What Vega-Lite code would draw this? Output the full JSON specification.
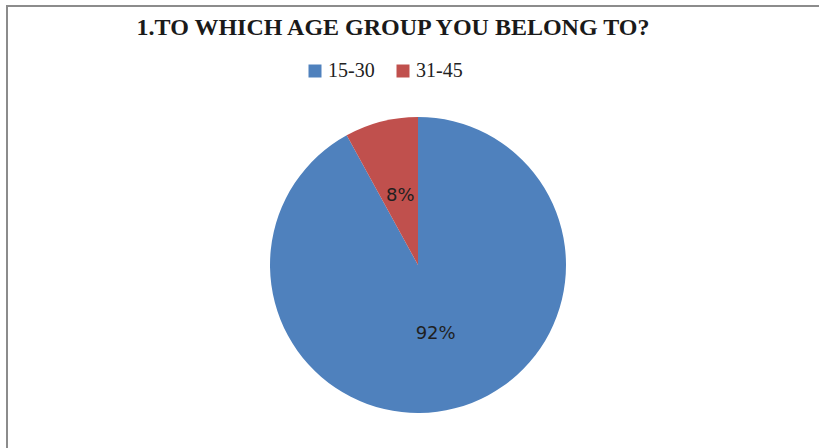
{
  "$schema": "https://vega.github.io/schema/vega-lite/v6.json",
  "width": 822,
  "height": 518,
  "autosize": {"type": "none"},
  "padding": {"left": 7, "top": 6, "right": 0, "bottom": 0},
  "background": "white",
  "view": {"stroke": "#8c8c8c", "strokeWidth": 2, "fill": "white"},
  "title": {
    "text": "1.TO WHICH AGE GROUP YOU BELONG TO?",
    "font": "Liberation Serif",
    "fontSize": 24,
    "fontWeight": "bold",
    "color": "#1a1a1a",
    "anchor": "middle",
    "frame": "group",
    "baseline": "alphabetic",
    "offset": -53,
    "dx": -25
  },
  "data": {
    "values": [
      {"group": "15-30", "percent": 92, "label": "92%"},
      {"group": "31-45", "percent": 8, "label": "8%"}
    ]
  },
  "encoding": {
    "theta": {"field": "percent", "type": "quantitative", "stack": true},
    "order": {"field": "group"}
  },
  "layer": [
    {
      "mark": {"type": "arc", "outerRadius": 148},
      "encoding": {
        "color": {
          "field": "group",
          "type": "nominal",
          "scale": {"domain": ["15-30", "31-45"], "range": ["#4F81BD", "#C0504D"]},
          "legend": {
            "title": null,
            "orient": "none",
            "legendX": 298,
            "legendY": 55,
            "direction": "horizontal",
            "symbolType": "square",
            "symbolSize": 169,
            "symbolStrokeWidth": 0,
            "labelFont": "Liberation Serif",
            "labelFontSize": 20,
            "labelColor": "#222222",
            "columnPadding": 18,
            "labelOffset": 3,
            "padding": 0
          }
        }
      }
    },
    {
      "mark": {"type": "text", "radius": 71, "font": "DejaVu Sans", "fontSize": 18, "color": "#1f1f1f"},
      "encoding": {"text": {"field": "label"}}
    }
  ],
  "config": {"view": {"stroke": "#8c8c8c", "strokeWidth": 2}}
}
